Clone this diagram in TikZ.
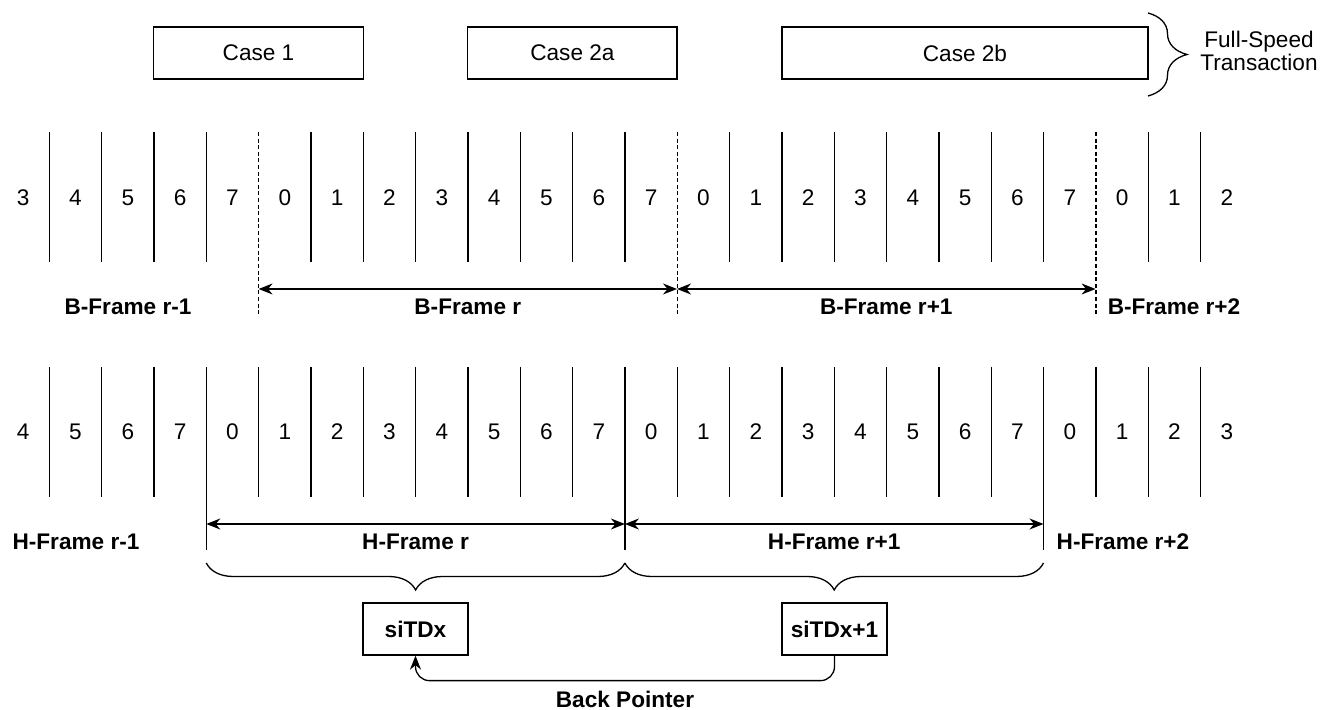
\documentclass[tikz,border=0pt]{standalone}
\usepackage{fontspec}
\setmainfont{Liberation Sans}
\usetikzlibrary{arrows.meta,positioning,decorations.pathreplacing}

\begin{document}
\begin{tikzpicture}[
  x=0.5pt, y=-0.5pt, line width=0.65pt,
  >={Stealth[length=7pt,width=5.5pt]},
  font=\fontsize{11.3}{13}\selectfont,
  casebox/.style={draw,minimum height=26pt,inner sep=0pt},
  tdbox/.style={draw,minimum width=52.5pt,minimum height=26pt,inner sep=0pt,font=\fontsize{11.3}{13}\selectfont\bfseries},
  framelbl/.style={font=\fontsize{11.3}{13}\selectfont\bfseries},
  slot/.style={inner sep=0pt},
  brc/.style={decorate,decoration={brace,amplitude=#1}},
]
\useasboundingbox (0,0) rectangle (1323,710);

% transactions
\node[casebox,minimum width=104.8pt] (c1)  at (258.5,53) {Case 1};
\node[casebox,minimum width=104.6pt] (c2a) at (572.4,53) {Case 2a};
\node[casebox,minimum width=183pt]   (c2b) at (965,53)   {Case 2b};
\draw[brc=19.5pt] (1148,13) -- (1148,96);
\node[align=center,font=\fontsize{11.3}{10.5}\selectfont] (fs) at (1259,51) {Full-Speed\\Transaction};

% slot numbers
\foreach \j in {0,...,23} {
  \pgfmathtruncatemacro\bv{mod(\j+3,8)}
  \pgfmathtruncatemacro\hv{mod(\j+4,8)}
  \node[slot] (b\j) at ({23.2+52.33*\j},198) {\bv};
  \node[slot] (h\j) at ({23.2+52.33*\j},432) {\hv};
}

% slot separators
\foreach \i in {0,1,2,3,5,6,7,8,9,10,11,13,14,15,16,17,18,19,21,22}
  \draw ({49.3+52.33*\i},132) -- ++(0,130);
\foreach \i in {4,12,20}
  \draw[dash pattern=on 2pt off 1.3pt] ({49.3+52.33*\i},132) -- ++(0,183);
\foreach \i in {0,1,2,4,5,6,7,8,9,10,12,13,14,15,16,17,18,20,21,22}
  \draw ({49.3+52.33*\i},367) -- ++(0,130);
\foreach \i in {3,11,19}
  \draw ({49.3+52.33*\i},367) -- ++(0,183);

% B-frames
\coordinate (bb0) at (258.6,289);
\coordinate (bb1) at (677,289);
\coordinate (bb2) at (1095.6,289);
\draw[<->] (bb0) -- (bb1);
\draw[<->] (bb1) -- (bb2);
\node[framelbl] (bfa) at (128,307)    {B-Frame r-1};
\node[framelbl] (bfb) at (467.8,307)  {B-Frame r};
\node[framelbl] (bfc) at (886.3,307)  {B-Frame r+1};
\node[framelbl] (bfd) at (1174,307)   {B-Frame r+2};

% H-frames
\coordinate (hb0) at (206.3,524);
\coordinate (hb1) at (624.9,524);
\coordinate (hb2) at (1043.5,524);
\draw[<->] (hb0) -- (hb1);
\draw[<->] (hb1) -- (hb2);
\node[framelbl] (hfa) at (76,542)     {H-Frame r-1};
\node[framelbl] (hfb) at (415.6,542)  {H-Frame r};
\node[framelbl] (hfc) at (834.2,542)  {H-Frame r+1};
\node[framelbl] (hfd) at (1123,542)   {H-Frame r+2};

\draw[brc=13.5pt] (624.9,563) -- (206.3,563);
\draw[brc=13.5pt] (1043.5,563) -- (624.9,563);

% iTDs
\node[tdbox] (td0) at (415.5,629) {siTDx};
\node[tdbox] (td1) at (834.5,629) {siTDx+1};
\draw[->,rounded corners=7pt] (td1.south) -- ++(0,25)
  -| node[pos=0.25,below=1.5pt,framelbl] (bp) {Back Pointer} (td0.south);
\end{tikzpicture}
\end{document}
